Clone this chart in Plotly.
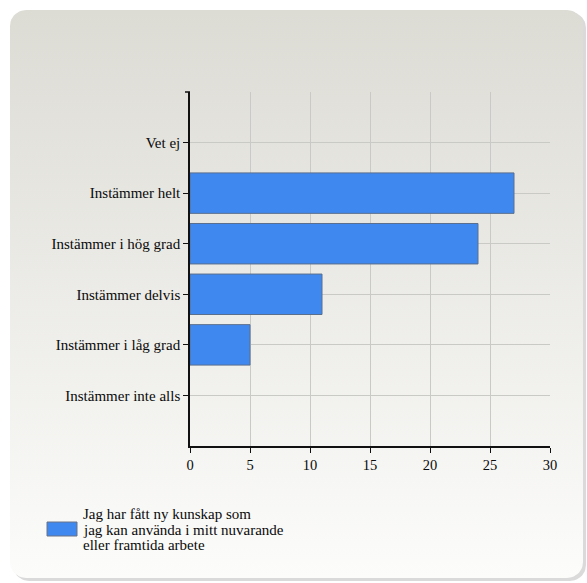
import numpy as np
import plotly.graph_objects as go

# ---- data ----
categories = ["Instämmer inte alls", "Instämmer i låg grad", "Instämmer delvis",
              "Instämmer i hög grad", "Instämmer helt", "Vet ej"]
values = [0, 5, 11, 24, 27, 0]
series_lines = ["Jag har fått ny kunskap som", "jag kan använda i mitt nuvarande", "eller framtida arbete"]
x_ticks = [0, 5, 10, 15, 20, 25, 30]

W, H = 587, 583
FONT = "Liberation Serif"
FS = 15
BAR = "#3f88f0"
TXT = "#0a0a0a"

fig = go.Figure()

# background panel (rounded rect with vertical gradient) on a full-figure axis drawn first
def rrect(x0, y0, x1, y1, r, n=12):
    pts = []
    for cx, cy, a0 in [(x1 - r, y0 + r, -90), (x1 - r, y1 - r, 0), (x0 + r, y1 - r, 90), (x0 + r, y0 + r, 180)]:
        for t in np.linspace(a0, a0 + 90, n):
            pts.append((cx + r * np.cos(np.radians(t)), cy + r * np.sin(np.radians(t))))
    pts.append(pts[0])
    return [p[0] for p in pts], [p[1] for p in pts]

sx, sy = rrect(13, 12, 586, 581, 16)
fig.add_trace(go.Scatter(x=sx, y=sy, xaxis="x", yaxis="y", mode="lines", fill="toself",
                         fillcolor="rgba(150,150,150,0.35)", line=dict(width=0), hoverinfo="skip", showlegend=False))
px, py = rrect(10, 10, 583, 578, 16)
fig.add_trace(go.Scatter(x=px, y=py, xaxis="x", yaxis="y", mode="lines", fill="toself",
                         fillgradient=dict(type="vertical", colorscale=[[0, "#fcfcfb"], [1, "#dcdbd4"]]),
                         line=dict(width=0), hoverinfo="skip", showlegend=False))

fig.add_trace(go.Bar(y=categories, x=values, orientation="h", width=0.8, xaxis="x2", yaxis="y2",
                     marker=dict(color=BAR, line=dict(color="#5a6f8c",
                                                      width=[1 if v > 0 else 0 for v in values])),
                     showlegend=False, hoverinfo="x+y"))

L, R, T, B = 190, 550, 92, 446
ann = []
for i, line in enumerate(series_lines):
    ann.append(dict(xref="x", yref="y", x=81, y=514 + i * 15.5, xanchor="left", yanchor="middle",
                    showarrow=False, text=line, font=dict(family=FONT, size=15, color=TXT)))

fig.update_layout(
    width=W, height=H, margin=dict(l=0, r=0, t=0, b=0, autoexpand=False),
    paper_bgcolor="white", plot_bgcolor="rgba(0,0,0,0)",
    font=dict(family=FONT, size=FS, color=TXT),
    xaxis=dict(domain=[0, 1], range=[0, W], visible=False, fixedrange=True, automargin=False),
    yaxis=dict(domain=[0, 1], range=[H, 0], visible=False, fixedrange=True, automargin=False),
    xaxis2=dict(domain=[L / W, R / W], range=[0, 30], tickvals=x_ticks, showgrid=True,
                gridcolor="#c9c9c5", gridwidth=1, showline=True, linecolor="#111", linewidth=1.5,
                ticks="outside", ticklen=5, tickcolor="#111", zeroline=False, anchor="y2",
                automargin=False, tickfont=dict(size=14.5)),
    yaxis2=dict(domain=[1 - B / H, 1 - T / H], type="category", categoryorder="array",
                categoryarray=categories, range=[-1, 6], showgrid=True, gridcolor="#c9c9c5",
                showline=True, linecolor="#111", linewidth=1.5, ticks="outside", ticklen=5,
                tickcolor="#111", anchor="x2", automargin=False),
    shapes=[
        dict(type="line", xref="x2", yref="y2 domain", x0=0, x1=30, y0=1, y1=1,
             line=dict(color="#c9c9c5", width=1), layer="below"),
        dict(type="line", xref="x", yref="y2 domain", x0=L - 5, x1=L, y0=1, y1=1,
             line=dict(color="#111", width=1.5)),
        dict(type="rect", xref="x", yref="y", x0=47, x1=77, y0=522, y1=536,
             fillcolor=BAR, line=dict(color="#6a7384", width=1)),
    ],
    annotations=ann,
)

fig.write_html("out.html", config={"displayModeBar": False},
               post_script="document.body.style.margin='0';")
